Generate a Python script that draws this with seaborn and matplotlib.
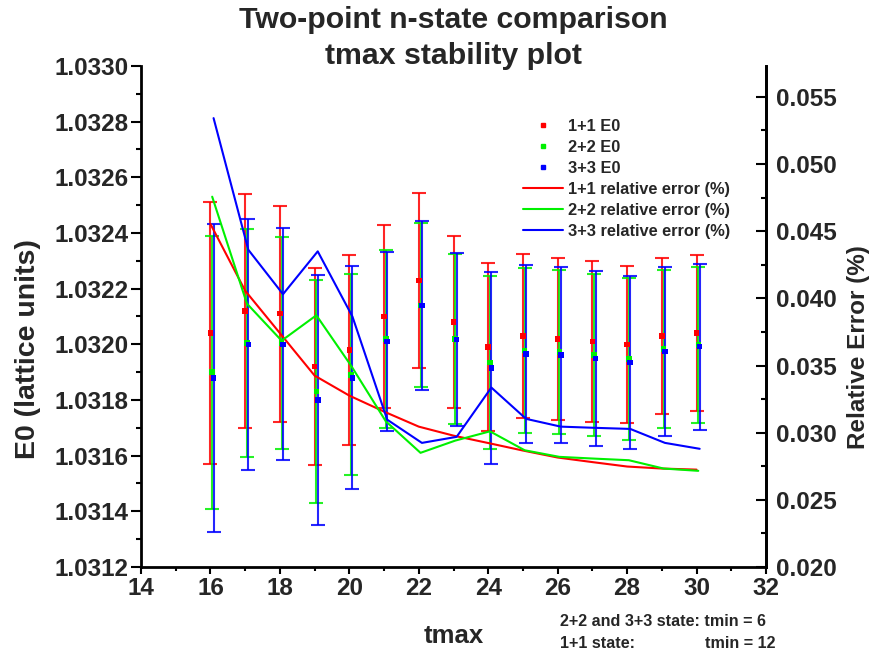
import numpy as np
import pandas as pd
import matplotlib
matplotlib.use("Agg")
import matplotlib.pyplot as plt
from matplotlib.lines import Line2D
from matplotlib.ticker import MultipleLocator, FormatStrFormatter
import seaborn as sns

# ---- data -------------------------------------------------------------
tmax = [16, 17, 18, 19, 20, 21, 22, 23, 24, 25, 26, 27, 28, 29, 30]

e0_11 = [1.03204, 1.03212, 1.03211, 1.03192, 1.03198, 1.03210, 1.03223, 1.03208,
         1.03199, 1.03203, 1.03202, 1.03201, 1.03200, 1.03203, 1.03204]
err_11 = [0.000470, 0.000420, 0.000388, 0.000355, 0.000340, 0.000327, 0.000314, 0.000309,
          0.000303, 0.000296, 0.000291, 0.000288, 0.000282, 0.000281, 0.000280]

e0_22 = [1.031900, 1.032005, 1.032005, 1.031830, 1.031890, 1.032020, 1.032140, 1.032020,
         1.031935, 1.031978, 1.031973, 1.031962, 1.031948, 1.031984, 1.031998]
err_22 = [0.000490, 0.000410, 0.000380, 0.000400, 0.000361, 0.000320, 0.000295, 0.000305,
          0.000311, 0.000296, 0.000294, 0.000291, 0.000290, 0.000284, 0.000281]

e0_33 = [1.031880, 1.032000, 1.032000, 1.031800, 1.031880, 1.032010, 1.032140, 1.032018,
         1.031915, 1.031966, 1.031962, 1.031949, 1.031935, 1.031974, 1.031992]
err_33 = [0.000553, 0.000450, 0.000417, 0.000450, 0.000400, 0.000320, 0.000303, 0.000310,
          0.000345, 0.000320, 0.000316, 0.000315, 0.000311, 0.000303, 0.000298]

# relative error of E0 in percent
rel_11 = [0.04554, 0.04057, 0.03741, 0.03425, 0.03276, 0.03157, 0.03045, 0.02978,
          0.02923, 0.02867, 0.02815, 0.02781, 0.02748, 0.02733, 0.02725]
rel_22 = [0.04757, 0.03961, 0.03685, 0.03874, 0.03499, 0.03085, 0.02850, 0.02941,
          0.03010, 0.02869, 0.02820, 0.02807, 0.02795, 0.02733, 0.02716]
rel_33 = [0.05342, 0.04362, 0.04031, 0.04350, 0.03864, 0.03097, 0.02924, 0.02969,
          0.03336, 0.03103, 0.03045, 0.03036, 0.03028, 0.02924, 0.02880]

states = ["1+1", "2+2", "3+3"]

# ---- styling ----------------------------------------------------------
colors = {"1+1": "#ff0000", "2+2": "#00f000", "3+3": "#0000ff"}
shift = {"1+1": 0.0, "2+2": 0.05, "3+3": 0.09}   # small horizontal stagger

frames = []
for s, e0, er, rel in [("1+1", e0_11, err_11, rel_11),
                       ("2+2", e0_22, err_22, rel_22),
                       ("3+3", e0_33, err_33, rel_33)]:
    d = pd.DataFrame({"tmax": tmax, "E0": e0, "err": er, "rel": rel})
    d["state"] = s
    d["xpos"] = d["tmax"] + shift[s]
    frames.append(d)
df = pd.concat(frames, ignore_index=True)

sns.set_theme(style="white")
plt.rcParams["font.family"] = ["Liberation Sans", "DejaVu Sans"]
plt.rcParams["font.weight"] = "bold"
plt.rcParams["axes.labelweight"] = "bold"

W, H = 876, 658
fig = plt.figure(figsize=(W / 100, H / 100), dpi=100)
x0, x1, y0, y1 = 141, 766, 66, 567
ax = fig.add_axes([x0 / W, 1 - y1 / H, (x1 - x0) / W, (y1 - y0) / H])
ax2 = ax.twinx()

# error bars and E0 points
for s in states:
    d = df[df["state"] == s]
    ax.errorbar(d["xpos"], d["E0"], yerr=d["err"], fmt="none",
                ecolor=colors[s], elinewidth=1.5, capsize=5, capthick=1.5,
                alpha=0.85, zorder=2)
sns.scatterplot(data=df, x="xpos", y="E0", hue="state", palette=colors,
                marker="s", s=16, linewidth=0, legend=False, ax=ax, zorder=3)

# relative error curves on the right axis
sns.lineplot(data=df, x="xpos", y="rel", hue="state", palette=colors,
             estimator=None, sort=True, linewidth=1.5, legend=False, ax=ax2)

# ---- axes -------------------------------------------------------------
ax.set_xlim(14, 32)
ax.set_ylim(1.0312, 1.0330)
ax2.set_ylim(0.020, 0.0573)

ax.xaxis.set_major_locator(MultipleLocator(2))
ax.xaxis.set_minor_locator(MultipleLocator(1))
ax.yaxis.set_major_locator(MultipleLocator(0.0002))
ax.yaxis.set_minor_locator(MultipleLocator(0.0001))
ax.yaxis.set_major_formatter(FormatStrFormatter("%.4f"))
ax2.yaxis.set_major_locator(MultipleLocator(0.005))
ax2.yaxis.set_minor_locator(MultipleLocator(0.0025))
ax2.yaxis.set_major_formatter(FormatStrFormatter("%.3f"))

ax.set_xlabel("")
ax.set_ylabel("")
ax2.set_ylabel("")

for a in (ax, ax2):
    a.spines["top"].set_visible(False)
    for sp in ("left", "right", "bottom"):
        a.spines[sp].set_linewidth(2)
        a.spines[sp].set_color("black")
ax2.spines["left"].set_visible(False)
ax2.spines["bottom"].set_visible(False)

tick_font = 17.5
ax.tick_params(axis="both", which="both", direction="out", color="black",
               labelsize=tick_font, width=1.5)
ax.tick_params(axis="y", which="major", length=7, pad=2, left=True)
ax.tick_params(axis="y", which="minor", length=3.5, left=True)
ax.tick_params(axis="x", which="major", length=5, pad=2, bottom=True)
ax.tick_params(axis="x", which="minor", length=3, bottom=True)
ax2.tick_params(axis="y", which="both", direction="in", right=True,
                labelsize=tick_font, width=1.5, color="black")
ax2.tick_params(axis="y", which="major", length=7, pad=7)
ax2.tick_params(axis="y", which="minor", length=3.5)
for lab in ax.get_xticklabels() + ax.get_yticklabels() + ax2.get_yticklabels():
    lab.set_fontweight("bold")

# ---- legend -----------------------------------------------------------
handles = [Line2D([], [], marker="s", color=colors[s], linestyle="none",
                  markersize=3.5) for s in states]
handles += [Line2D([], [], color=colors[s], linewidth=1.5) for s in states]
labels = [f"{s} E0" for s in states] + [f"{s} relative error (%)" for s in states]
ax2.legend(handles, labels, loc="upper left",
           bbox_to_anchor=(515 / W, 1 - 111 / H), bbox_transform=fig.transFigure,
           frameon=False, borderpad=0, handlelength=2.45, handletextpad=0.3,
           labelspacing=0.36, prop={"size": 11.8, "weight": "bold"})

# ---- text -------------------------------------------------------------
fig.text(453.5 / W, 1 - 20 / H, "Two-point n-state comparison", ha="center",
         va="center", fontsize=21.8, fontweight="bold")
fig.text(453.5 / W, 1 - 56 / H, "tmax stability plot", ha="center",
         va="center", fontsize=21.8, fontweight="bold")
fig.text(28 / W, 1 - 349 / H, "E0 (lattice units)", rotation=90, ha="center",
         va="center", fontsize=20.5, fontweight="bold")
fig.text(859 / W, 1 - 347 / H, "Relative Error (%)", rotation=90, ha="center",
         va="center", fontsize=17.5, fontweight="bold")
fig.text(454 / W, 1 - 636 / H, "tmax", ha="center", va="center",
         fontsize=18.5, fontweight="bold")
fig.text(560 / W, 1 - 622 / H, "2+2 and 3+3 state: tmin = 6", ha="left",
         va="center", fontsize=11.6, fontweight="bold")
fig.text(560 / W, 1 - 643 / H, "1+1 state:", ha="left",
         va="center", fontsize=11.6, fontweight="bold")
fig.text(705 / W, 1 - 643 / H, "tmin = 12", ha="left",
         va="center", fontsize=11.6, fontweight="bold")

fig.savefig("out.png", dpi=100, facecolor="white")
